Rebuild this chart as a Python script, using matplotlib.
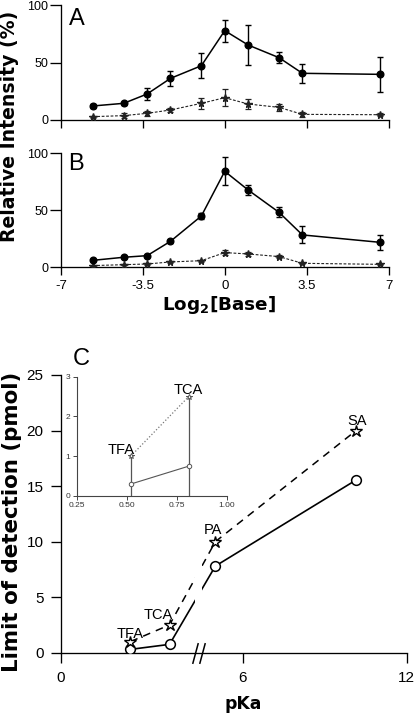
import numpy as np
import matplotlib
matplotlib.use('Agg')
import matplotlib.pyplot as plt
from matplotlib.path import Path
from matplotlib.ticker import FormatStrFormatter

plt.rcParams['font.family'] = ['Liberation Sans', 'DejaVu Sans']
plt.rcParams['mathtext.fontset'] = 'dejavusans'

# ---------------- data ----------------
x_log2 = [-5.64, -4.32, -3.32, -2.32, -1.0, 0.0, 1.0, 2.32, 3.32, 6.64]
xticks_ab = [-7, -3.5, 0, 3.5, 7]
xticklabels_ab = ['-7', '-3.5', '0', '3.5', '7']
yticks_ab = [0, 50, 100]

A_solid = [12.2, 14.5, 22.6, 36.2, 47.2, 77.7, 65.2, 54.2, 40.6, 39.7]
A_solid_err = [1.5, 1.2, 5.0, 6.5, 11.0, 9.5, 17.0, 5.0, 8.0, 15.0]
A_dash = [2.9, 3.8, 5.8, 8.7, 14.5, 19.4, 13.9, 11.0, 4.9, 4.6]
A_dash_err = [1.0, 2.0, 2.0, 2.0, 4.5, 7.5, 4.5, 3.0, 2.0, 1.5]

B_solid = [6.1, 8.8, 10.2, 22.8, 45.0, 84.2, 67.8, 48.2, 28.4, 21.9]
B_solid_err = [1.0, 1.0, 1.0, 1.5, 2.5, 12.4, 4.5, 4.5, 7.5, 6.5]
B_dash = [1.5, 2.3, 2.9, 4.7, 5.8, 12.9, 11.7, 9.4, 3.5, 2.6]
B_dash_err = [0.5, 0.5, 0.5, 0.5, 0.8, 2.5, 2.0, 1.0, 0.5, 0.5]

acids = ['TFA', 'TCA', 'PA', 'SA']
pka = [0.52, 0.81, 5.0, 10.15]
lod_circle = [0.3, 0.75, 7.8, 15.55]
lod_star = [1.0, 2.5, 10.0, 20.0]
xticks_c = [0, 6, 12]
yticks_c = [0, 5, 10, 15, 20, 25]
inset_xticks = [0.25, 0.50, 0.75, 1.00]
inset_yticks = [0, 1, 2, 3]

# ---------------- figure ----------------
W, H = 415, 714
fig = plt.figure(figsize=(W / 100, H / 100), dpi=100)


def ax_px(l, t, r, b):
    return fig.add_axes([l / W, 1 - b / H, (r - l) / W, (b - t) / H])


axA = ax_px(61, 5, 388.5, 120)
axB = ax_px(61, 153.3, 388.5, 267.3)
axC = ax_px(60.5, 375, 406.7, 652.7)
axI = ax_px(76.7, 376.7, 226.7, 496)

for ax in (axA, axB, axC, axI):
    ax.spines['top'].set_visible(False)
    ax.spines['right'].set_visible(False)
    ax.patch.set_alpha(0)

dash_small = (0, (2.5, 1.5))

for ax, ys, ye, yd, yde in ((axA, A_solid, A_solid_err, A_dash, A_dash_err),
                            (axB, B_solid, B_solid_err, B_dash, B_dash_err)):
    ax.errorbar(x_log2, yd, yerr=yde, marker='*', ms=5.5, color='#222222',
                ls=dash_small, lw=0.8, capsize=2.5, elinewidth=0.9,
                capthick=0.9, zorder=3)
    ax.errorbar(x_log2, ys, yerr=ye, marker='o', ms=4.8, color='k',
                ls='-', lw=1.1, capsize=2.5, elinewidth=1.0, capthick=1.0,
                zorder=4)
    ax.set_xlim(-7, 7)
    ax.set_ylim(0, 100)
    ax.set_xticks(xticks_ab)
    ax.set_yticks(yticks_ab)
    for s in ('left', 'bottom'):
        ax.spines[s].set_linewidth(0.95)
    ax.tick_params(axis='y', length=8, width=0.95, pad=1.2, labelsize=9)
    ax.tick_params(axis='x', length=6, width=0.95, pad=3, labelsize=9.5)

axA.set_xticklabels([])
axB.set_xticklabels(xticklabels_ab)

# ---------------- panel C (broken x axis) ----------------
b1, b2 = 1.0, 4.5
s1, sg, s2 = 134.6, 6.6 / 3.5, 27.33
y1 = b1 * s1
y2 = y1 + (b2 - b1) * sg


def fwd(x):
    x = np.asarray(x, dtype=float)
    return np.where(x <= b1, x * s1,
                    np.where(x < b2, y1 + (x - b1) * sg, y2 + (x - b2) * s2))


def inv(y):
    y = np.asarray(y, dtype=float)
    return np.where(y <= y1, y / s1,
                    np.where(y < y2, b1 + (y - y1) / sg, b2 + (y - y2) / s2))


axC.set_xscale('function', functions=(fwd, inv))
axC.set_xlim(0, 12)
axC.set_ylim(0, 25)
axC.set_xticks(xticks_c)
axC.set_xticklabels([str(v) for v in xticks_c])
axC.set_yticks(yticks_c)
axC.set_yticklabels([str(v) for v in yticks_c])
axC.xaxis.set_minor_locator(matplotlib.ticker.NullLocator())
for s in ('left', 'bottom'):
    axC.spines[s].set_linewidth(0.95)
axC.tick_params(axis='y', length=7.2, width=0.95, pad=5, labelsize=11)
axC.tick_params(axis='x', length=7.2, width=0.95, pad=6, labelsize=11)

axC.plot(pka, lod_star, ls=(0, (5, 4)), lw=1.1, color='k', zorder=2)
axC.plot(pka, lod_circle, ls='-', lw=1.2, color='k', zorder=2)
axC.axvspan(b1, b2, ymin=0.03, ymax=0.6, color='white', lw=0, zorder=3)
axC.plot(pka, lod_circle, ls='none', marker='o', ms=7, mfc='white',
         mec='k', mew=1.1, zorder=4)
axC.plot(pka, lod_star, ls='none', marker='*', ms=9, mfc='white',
         mec='k', mew=1.0, zorder=4)

slash = Path([(-0.27, -1.0), (0.27, 1.0)], [Path.MOVETO, Path.LINETO])
axC.plot([b1, b2], [0, 0], ls='none', marker=slash, ms=15, mec='k',
         mew=1.1, clip_on=False, zorder=5)

label_offsets = {'TFA': (0, 2.9), 'TCA': (-8, 4.5), 'PA': (-1.4, 5.5),
                 'SA': (0.5, 4.0)}
for name, xv, yv in zip(acids, pka, lod_star):
    axC.annotate(name, (xv, yv), xytext=label_offsets[name],
                 textcoords='offset points', ha='center', va='baseline',
                 fontsize=10.5)

# ---------------- inset ----------------
gray = '#555555'
axI.vlines(pka[:2], 0, lod_star[:2], color=gray, lw=0.9, zorder=2)
axI.plot(pka[:2], lod_star[:2], ls=':', color='#777777', lw=0.9, zorder=2)
axI.plot(pka[:2], lod_circle[:2], ls='-', color=gray, lw=0.8, zorder=2)
axI.plot(pka[:2], lod_star[:2], ls='none', marker='*', ms=4, mfc='white',
         mec=gray, mew=0.7, zorder=3)
axI.plot(pka[:2], lod_circle[:2], ls='none', marker='o', ms=3.2,
         mfc='white', mec=gray, mew=0.7, zorder=3)
axI.set_xlim(0.25, 1.0)
axI.set_ylim(0, 3)
axI.set_xticks(inset_xticks)
axI.set_yticks(inset_yticks)
axI.xaxis.set_major_formatter(FormatStrFormatter('%.2f'))
for s in ('left', 'bottom'):
    axI.spines[s].set_linewidth(0.8)
    axI.spines[s].set_color('#444444')
axI.tick_params(length=3, width=0.7, pad=1.5, labelsize=6,
                color='#444444', labelcolor='#333333')
inset_offsets = {'TFA': (-7, 1.4), 'TCA': (0, 2.2)}
for name, xv, yv in zip(acids[:2], pka[:2], lod_star[:2]):
    axI.annotate(name, (xv, yv), xytext=inset_offsets[name],
                 textcoords='offset points', ha='center', va='baseline',
                 fontsize=10.5)

# ---------------- labels ----------------
fig.text(69 / W, 1 - 25 / H, 'A', fontsize=17, ha='left', va='baseline')
fig.text(68 / W, 1 - 170 / H, 'B', fontsize=17, ha='left', va='baseline')
fig.text(73 / W, 1 - 365 / H, 'C', fontsize=17, ha='left', va='baseline')

bold = dict(family='DejaVu Sans', fontweight='bold')
fig.text(10 / W, 1 - 126 / H, 'Relative Intensity (%)', rotation=90,
         ha='center', va='center', fontsize=13.6, **bold)
fig.text(12 / W, 1 - 522 / H, 'Limit of detection (pmol)', rotation=90,
         ha='center', va='center', fontsize=15.4, **bold)
fig.text(219 / W, 1 - 310 / H, r'Log$_{\mathbf{2}}$[Base]', ha='center',
         va='baseline', fontsize=13.2, **bold)
fig.text(243 / W, 1 - 709 / H, 'pKa', ha='center', va='baseline',
         fontsize=12.4, **bold)

fig.savefig('out.png', dpi=100)
